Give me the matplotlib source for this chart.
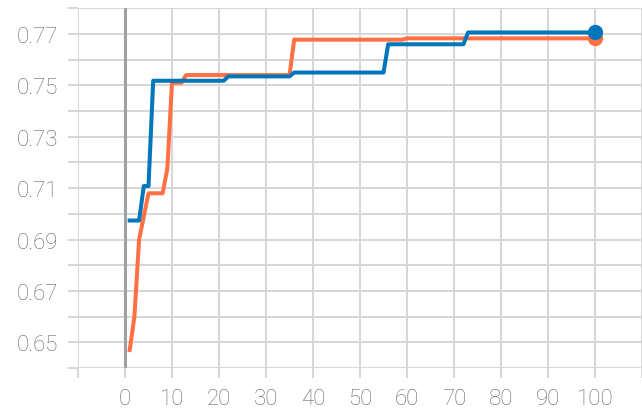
import matplotlib
matplotlib.use("Agg")
import matplotlib.pyplot as plt

# Data
orange_x = [1, 2, 3, 4, 5, 8, 9, 10, 12, 13, 35, 36, 59, 60, 100]
orange_y = [0.647, 0.660, 0.690, 0.699, 0.708, 0.708, 0.7175, 0.751, 0.751, 0.754,
            0.754, 0.7678, 0.7678, 0.7683, 0.7683]
blue_x = [1, 3, 4, 5, 6, 21, 22, 35, 36, 55, 56, 72, 73, 100]
blue_y = [0.6974, 0.6974, 0.7108, 0.7108, 0.7518, 0.7518, 0.7535, 0.7535, 0.7550,
          0.7550, 0.7660, 0.7660, 0.7706, 0.7706]

x_ticks = [0, 10, 20, 30, 40, 50, 60, 70, 80, 90, 100]
y_ticks = [0.65, 0.67, 0.69, 0.71, 0.73, 0.75, 0.77]

ORANGE = "#ff7043"
BLUE = "#0077bb"
GRID = "#d6d6d6"
TEXT = "#666666"

plt.rcParams['font.family'] = ['Roboto', 'DejaVu Sans']

fig = plt.figure(figsize=(6.42, 4.10), dpi=100)
ax = fig.add_axes([78/642, 1 - 369/410, 1 - 78/642, (369 - 9.3)/410])

ax.set_xlim(-10, 110)
ax.set_ylim(0.64, 0.78)

ax.grid(True, color=GRID, linewidth=1.4, zorder=0)
ax.set_axisbelow(True)
for s in ax.spines.values():
    s.set_visible(False)

ax.axvline(0, color="#a0a0a0", linewidth=2.2, zorder=1)

ax.plot(orange_x, orange_y, color=ORANGE, linewidth=2.9, zorder=3, solid_joinstyle='round')
ax.plot(blue_x, blue_y, color=BLUE, linewidth=2.9, zorder=4, solid_joinstyle='round')
ax.plot([orange_x[-1]], [orange_y[-1]], 'o', color=ORANGE, markersize=10, zorder=3)
ax.plot([blue_x[-1]], [blue_y[-1]], 'o', color=BLUE, markersize=10, zorder=4)

ax.tick_params(axis='both', length=7.2, width=1.4, color=GRID, labelcolor=TEXT,
               labelsize=16)
ax.tick_params(axis='y', pad=7)
ax.tick_params(axis='x', pad=7)

ax.set_yticks([round(0.64 + 0.01 * i, 2) for i in range(15)])
ylabels = [f"{v:.2f}" if any(abs(v - t) < 1e-9 for t in y_ticks) else "" for v in ax.get_yticks()]
ax.set_yticklabels(ylabels)
ax.set_xticks(list(range(-10, 111, 10)))
ax.set_xticklabels([str(v) if v in x_ticks else "" for v in range(-10, 111, 10)])
for lbl in ax.get_xticklabels() + ax.get_yticklabels():
    lbl.set_fontweight('light')
for t in ax.xaxis.get_major_ticks():
    if abs(t.get_loc()) < 1e-9:
        t.tick1line.set_color("#a0a0a0")

fig.savefig("out.png", dpi=100)
